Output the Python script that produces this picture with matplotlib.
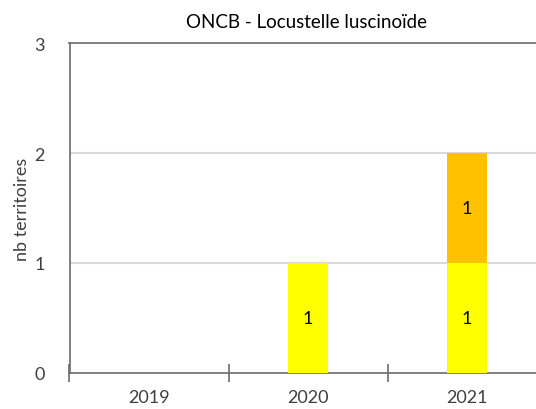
import matplotlib.pyplot as plt
import numpy as np

plt.rcParams['font.family'] = ['Lato', 'DejaVu Sans']

# data
years = ['2019', '2020', '2021']
serie_jaune = [0, 1, 1]
serie_orange = [0, 0, 1]
y_ticks = [0, 1, 2, 3]

JAUNE = '#FFFF00'
ORANGE = '#FFC000'
AXE = '#6b6b6b'
TXT = '#404040'

fig = plt.figure(figsize=(5.36, 4.10), dpi=100)
# plot area runs a little past the right edge, as in the original
ax = fig.add_axes([69.5 / 536, 1 - 374 / 410, 477 / 536, 330 / 410])

x = np.arange(len(years))
width = 0.25
b1 = ax.bar(x, serie_jaune, width, color=JAUNE, zorder=3)
b2 = ax.bar(x, serie_orange, width, bottom=serie_jaune, color=ORANGE, zorder=3)

# data labels (only non-zero segments)
for bars, vals, base in [(b1, serie_jaune, [0, 0, 0]), (b2, serie_orange, serie_jaune)]:
    for rect, v, b in zip(bars, vals, base):
        if v:
            ax.text(rect.get_x() + rect.get_width() / 2, b + v / 2, str(v),
                    ha='center', va='center', fontsize=13, color='black', zorder=4)

ax.set_xlim(-0.5, 2.5)
ax.set_ylim(0, 3)
ax.set_yticks(y_ticks)
ax.set_yticklabels([str(t) for t in y_ticks], fontsize=13, color=TXT)
ax.tick_params(axis='y', length=0, pad=18)

# category ticks sit between the categories
ax.set_xticks([-0.5, 0.5, 1.5])
ax.set_xticklabels([])
ax.tick_params(axis='x', direction='inout', length=13, width=1.2, color=AXE)
for i, yr in enumerate(years):
    ax.text(i, -0.05, yr, transform=ax.get_xaxis_transform(), ha='center', va='top',
            fontsize=13, color=TXT)

for yv in [1, 2]:
    ax.axhline(yv, color='#d9d9d9', lw=1.5, zorder=1)

for side in ['left', 'bottom', 'top']:
    ax.spines[side].set_color(AXE)
    ax.spines[side].set_linewidth(1.2)
ax.spines['right'].set_visible(False)

ax.set_ylabel('nb territoires', fontsize=13, color=TXT)
ax.yaxis.set_label_coords(-0.083, 0.5)

fig.text(306 / 536, 1 - 22 / 410, 'ONCB - Locustelle luscinoïde', ha='center', va='center',
         fontsize=13.5, color='black')

fig.savefig('out.png', dpi=100)
